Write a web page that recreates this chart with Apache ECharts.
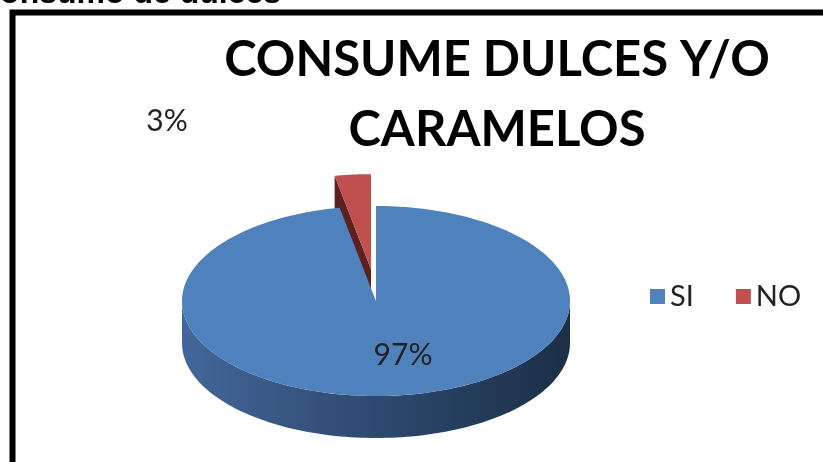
<!DOCTYPE html>
<html>
<head>
<meta charset="utf-8">
<script src="https://cdn.jsdelivr.net/npm/echarts@6/dist/echarts.min.js"></script>
<style>
html,body{margin:0;padding:0;background:#fff;}
#chart{width:823px;height:462px;}
</style>
</head>
<body>
<div id="chart"></div>
<script>
// ---- data ----
const categories = ['SI', 'NO'];
const values = [97, 3];
const chartTitle = 'CONSUME DULCES Y/O\nCARAMELOS';
const headingText = 'Consumo de dulces';

// ---- styling / layout (not data) ----
const topColors = ['#4f81bd', '#c0504d'];
const faceColors = ['#2e4a70', '#5e201e'];
const PIE = { cx: 376, cy: 301, rx: 194, ry: 95, h: 42 };
const explodeDist = [0, 32];
const explodeShiftX = [0, -5];
const labelPos = [[403, 355], [167, 121]];

const total = values.reduce((a, b) => a + b, 0);

function arcPts(cx, cy, rx, ry, a0, a1, n) {
  const pts = [];
  for (let k = 0; k <= n; k++) {
    const a = a0 + (a1 - a0) * k / n;
    pts.push([cx + rx * Math.cos(a), cy + ry * Math.sin(a)]);
  }
  return pts;
}

function renderItem(params, api) {
  const v = api.value(0);
  const i = api.value(1);
  let before = 0;
  for (let k = 0; k < i; k++) before += values[k];
  const a0 = -Math.PI / 2 + 2 * Math.PI * before / total;
  const a1 = a0 + 2 * Math.PI * v / total;
  const mid = (a0 + a1) / 2;
  const ex = explodeDist[i];
  const cx = PIE.cx + explodeShiftX[i];
  const cy = PIE.cy + ex * Math.sin(mid);
  const { rx, ry, h } = PIE;
  const children = [];

  // outer (front) side
  [0, 2 * Math.PI].forEach(function (k) {
    const lo = Math.max(a0, k), hi = Math.min(a1, k + Math.PI);
    if (lo < hi) {
      const top = arcPts(cx, cy, rx, ry, lo, hi, 120);
      const bot = arcPts(cx, cy + h, rx, ry, hi, lo, 120);
      children.push({
        type: 'polygon',
        shape: { points: top.concat(bot) },
        style: {
          fill: new echarts.graphic.LinearGradient(0, 0, 1, 0, [
            { offset: 0, color: '#43679a' },
            { offset: 0.45, color: '#2f4c73' },
            { offset: 1, color: '#1c2f47' }
          ])
        },
        z2: 1
      });
    }
  });

  // radial cut faces for the exploded slice
  if (ex > 0) {
    [a0, a1].forEach(function (a) {
      const px = cx + rx * Math.cos(a), py = cy + ry * Math.sin(a);
      children.push({
        type: 'polygon',
        shape: { points: [[cx, cy], [px, py], [px, py + h], [cx, cy + h]] },
        style: { fill: faceColors[i] },
        z2: 1
      });
    });
  }

  // top face
  const topPts = [[cx, cy]].concat(arcPts(cx, cy, rx, ry, a0, a1, 240));
  children.push({
    type: 'polygon',
    shape: { points: topPts },
    style: { fill: topColors[i] },
    z2: 2
  });

  // percentage label
  children.push({
    type: 'text',
    style: {
      text: Math.round(v / total * 100) + '%',
      x: labelPos[i][0],
      y: labelPos[i][1],
      font: '30px Lato',
      fill: '#222',
      align: 'center',
      verticalAlign: 'middle'
    },
    z2: 3
  });

  return { type: 'group', children: children };
}

const series = categories.map(function (name, i) {
  return {
    type: 'custom',
    name: name,
    coordinateSystem: 'none',
    data: [[values[i], i]],
    renderItem: renderItem,
    itemStyle: { color: topColors[i] },
    z: i === 0 ? 3 : 2,
    silent: true,
    animation: false
  };
});

const chart = echarts.init(document.getElementById('chart'), null, { renderer: 'canvas' });
chart.setOption({
  backgroundColor: '#ffffff',
  animation: false,
  title: {
    text: chartTitle,
    left: 497,
    top: 25,
    textAlign: 'center',
    padding: 0,
    textStyle: {
      fontFamily: 'Lato',
      fontWeight: 'bold',
      fontSize: 49,
      lineHeight: 70,
      color: '#000'
    }
  },
  legend: {
    data: categories,
    left: 650,
    top: 282,
    padding: 0,
    icon: 'rect',
    itemWidth: 15,
    itemHeight: 15,
    itemGap: 42,
    textStyle: { fontFamily: 'Lato', fontSize: 29, color: '#222' }
  },
  graphic: [
    {
      type: 'rect',
      shape: { x: 12.5, y: 12.5, width: 900, height: 600 },
      style: { fill: 'none', stroke: '#000', lineWidth: 6 },
      z: 1
    },
    {
      type: 'text',
      x: -23,
      y: -6,
      style: {
        text: headingText,
        font: 'bold 32px "Liberation Sans"',
        fill: '#000',
        verticalAlign: 'middle'
      },
      z: 1
    }
  ],
  series: series
});
</script>
</body>
</html>
